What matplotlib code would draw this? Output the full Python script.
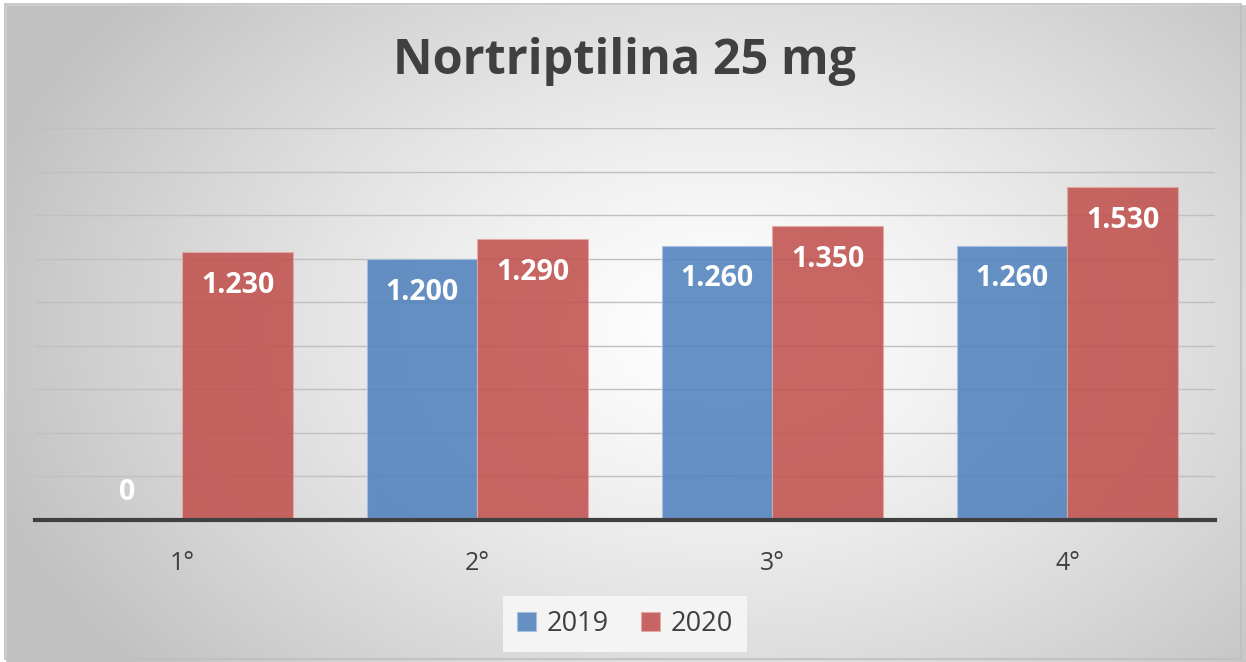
import numpy as np
import matplotlib
matplotlib.use("Agg")
import matplotlib.pyplot as plt
from matplotlib.patches import Rectangle

# data
categories = ["1°", "2°", "3°", "4°"]
series_names = ["2019", "2020"]
values_2019 = [0, 1200, 1260, 1260]
values_2020 = [1230, 1290, 1350, 1530]

plt.rcParams["font.family"] = ["Open Sans", "DejaVu Sans"]

W, H = 1246, 662
fig = plt.figure(figsize=(W / 100, H / 100), dpi=100)

# radial grey background, like the office chart style
bg = fig.add_axes([0, 0, 1, 1], zorder=-10)
yy, xx = np.mgrid[0:H, 0:W]
cx, cy = 720, 330
r = np.sqrt(((xx - cx) / 760.0) ** 2 + ((yy - cy) / 520.0) ** 2)
shade = 1.0 - 0.24 * np.clip(r, 0, 1.0) ** 1.3
img = np.dstack([shade, shade, shade])
bg.imshow(img, extent=[0, W, H, 0], aspect="auto", interpolation="bilinear")
bg.add_patch(Rectangle((0, 0), 5, H, color="white"))
bg.add_patch(Rectangle((0, 0), W, 4, color="white"))
bg.add_patch(Rectangle((5, 4), W - 10, H - 7, fill=False, edgecolor="#bfbfbf", lw=1.2))
bg.set_xlim(0, W)
bg.set_ylim(H, 0)
bg.axis("off")

ax = fig.add_axes([35 / W, (H - 520) / H, (1215 - 35) / W, (520 - 128) / H])
ax.patch.set_alpha(0)

x = np.arange(len(categories))
bw = 0.375
blue = "#4F81BD"
red = "#C0504D"
b1 = ax.bar(x - bw / 2, values_2019, bw, color=blue, alpha=0.87,
            edgecolor="#a9c1e0", linewidth=0.8, label=series_names[0], zorder=3)
b2 = ax.bar(x + bw / 2, values_2020, bw, color=red, alpha=0.87,
            edgecolor="#e3a9a7", linewidth=0.8, label=series_names[1], zorder=3)

def fmt(v):
    return f"{v:,}".replace(",", ".")

for xs, vals in [(x - bw / 2, values_2019), (x + bw / 2, values_2020)]:
    for xi, v in zip(xs, vals):
        off = 20 if v == 0 else -24
        ax.annotate(fmt(v), (xi, v), xytext=(0, off), textcoords="offset points",
                    ha="center", va="center", color="white", fontsize=20.5,
                    fontweight="bold", zorder=5)

ax.set_xlim(-0.5, len(categories) - 0.5)
ax.set_ylim(0, 1800)
ax.set_yticks(np.arange(0, 1801, 200))
ax.yaxis.grid(True, color="#c0c0c0", lw=1.0, zorder=0)
ax.tick_params(axis="y", left=False, labelleft=False)
ax.set_xticks(x)
ax.set_xticklabels(categories, fontsize=18, color="#404040")
ax.tick_params(axis="x", length=0, pad=22)
for s in ["top", "right", "left"]:
    ax.spines[s].set_visible(False)
ax.spines["bottom"].set_color("#404040")
ax.spines["bottom"].set_linewidth(3)
ax.spines["bottom"].set_zorder(4)

fig.text(625 / W, 1 - 62 / H, "Nortriptilina 25 mg", ha="center", va="center",
         fontsize=35, fontweight="bold", color="#404040")

leg = fig.legend(loc="center", bbox_to_anchor=(625 / W, 1 - 624 / H), ncol=2,
                 fontsize=19.5, frameon=True, fancybox=False, facecolor="#f4f4f4",
                 edgecolor="none", framealpha=1, handlelength=0.7, handleheight=0.7,
                 columnspacing=1.2, handletextpad=0.4, borderpad=0.5)
for t in leg.get_texts():
    t.set_color("#404040")

fig.savefig("out.png", dpi=100)
